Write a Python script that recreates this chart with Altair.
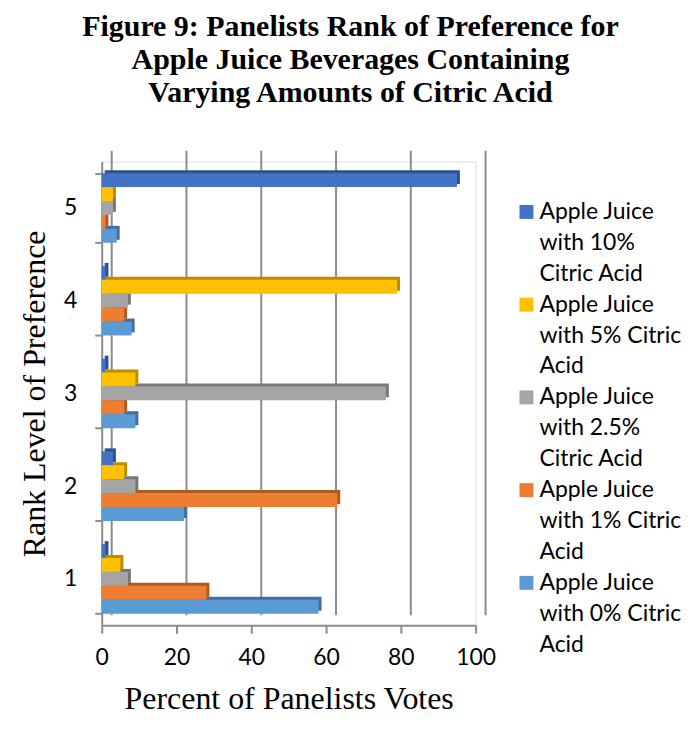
import altair as alt
import pandas as pd

ranks = ["5", "4", "3", "2", "1"]
series = [
    "Apple Juice with 10% Citric Acid",
    "Apple Juice with 5% Citric Acid",
    "Apple Juice with 2.5% Citric Acid",
    "Apple Juice with 1% Citric Acid",
    "Apple Juice with 0% Citric Acid",
]
# values per series, ordered by rank 5,4,3,2,1
v10 = [95, 1, 1, 3, 1]
v5 = [3, 79, 9, 6, 5]
v25 = [3, 7, 76, 9, 7]
v1 = [1, 6, 6, 63, 28]
v0 = [4, 8, 9, 22, 58]
all_vals = [v10, v5, v25, v1, v0]

colors = ["#4472C4", "#FFC000", "#A5A5A5", "#ED7D31", "#5B9BD5"]
dark = ["#2F528F", "#BC8C00", "#787878", "#AE5A21", "#41719C"]

x_ticks = [0, 20, 40, 60, 80, 100]
legend_lines = [
    ["Apple Juice", "with 10%", "Citric Acid"],
    ["Apple Juice", "with 5% Citric", "Acid"],
    ["Apple Juice", "with 2.5%", "Citric Acid"],
    ["Apple Juice", "with 1% Citric", "Acid"],
    ["Apple Juice", "with 0% Citric", "Acid"],
]

rows = []
for s, vals in zip(series, all_vals):
    for r, v in zip(ranks, vals):
        rows.append({"rank": r, "series": s, "shade": s, "value": v})
df = pd.DataFrame(rows)

lrows = []
k = 0
for s, lines in zip(series, legend_lines):
    for i, t in enumerate(lines):
        lrows.append({"line": k, "series": s, "text": t, "first": i == 0})
        k += 1
ldf = pd.DataFrame(lrows)
gdf = pd.DataFrame({"tick": x_ticks})

W, H = 375, 465
BAND = H / 5 * 0.75
DEPTH = 3
SANS = "Lato"
SERIF = "Liberation Serif"

y_enc = alt.Y("rank:N", sort=ranks,
              scale=alt.Scale(paddingInner=0.25, paddingOuter=0.125),
              axis=alt.Axis(title="Rank Level of Preference", titleFont=SERIF,
                            titleFontSize=32, titleFontWeight="normal", titleColor="black",
                            titlePadding=12,
                            labelFont=SANS, labelFontSize=23, labelColor="black",
                            labelPadding=18, tickBand="extent", tickSize=7,
                            tickColor="#8c8c8c", tickWidth=2,
                            domainColor="#8c8c8c", domainWidth=2, grid=False))
x_enc = alt.X("value:Q", scale=alt.Scale(domain=[0, 100], nice=False),
              axis=alt.Axis(values=x_ticks, title="Percent of Panelists Votes",
                            titleFont=SERIF, titleFontSize=32, titleFontWeight="normal",
                            titleColor="black", titlePadding=15,
                            labelFont=SANS, labelFontSize=23, labelColor="black",
                            labelPadding=13, labelFlush=False, tickSize=8,
                            tickColor="#8c8c8c",
                            tickWidth=2, domainColor="#8c8c8c", domainWidth=2,
                            grid=False))

grid = alt.Chart(gdf).mark_rule(color="#8c8c8c", strokeWidth=2, xOffset=10).encode(
    x=alt.X("tick:Q", scale=alt.Scale(domain=[0, 100], nice=False)),
    y=alt.value(-11), y2=alt.value(H - 10))

shadow = alt.Chart(df).mark_bar(xOffset=DEPTH).encode(
    y=y_enc, x=x_enc,
    yOffset=alt.YOffset("series:N", sort=series,
                        scale=alt.Scale(paddingInner=0, paddingOuter=0,
                                        range=[-DEPTH, BAND - DEPTH])),
    color=alt.Color("shade:N", scale=alt.Scale(domain=series, range=dark), legend=None))

bars = alt.Chart(df).mark_bar().encode(
    y=y_enc, x=x_enc,
    yOffset=alt.YOffset("series:N", sort=series,
                        scale=alt.Scale(paddingInner=0, paddingOuter=0,
                                        range=[0, BAND])),
    color=alt.Color("series:N", scale=alt.Scale(domain=series, range=colors), legend=None))

plot = alt.layer(grid, shadow, bars).resolve_scale(color="independent", yOffset="independent")

ly = alt.Y("line:O", axis=None, scale=alt.Scale(paddingInner=0, paddingOuter=0))
ltext = alt.Chart(ldf).mark_text(align="left", baseline="middle", font=SANS,
                                 fontSize=23, dy=35, color="black").encode(
    y=ly, x=alt.value(439), text="text:N")
lsym = alt.Chart(ldf).transform_filter("datum.first").mark_square(
    size=196, opacity=1, yOffset=35).encode(
    y=ly, x=alt.value(426),
    color=alt.Color("series:N", scale=alt.Scale(domain=series, range=colors), legend=None))
legend = alt.layer(lsym, ltext)

chart = alt.layer(plot, legend).resolve_scale(
    y="independent", color="independent").properties(
    width=W, height=H,
    padding={"left": 10, "top": 3, "right": 0, "bottom": 0},
    title=alt.TitleParams(
        ["Figure 9: Panelists Rank of Preference for",
         "Apple Juice Beverages Containing",
         "Varying Amounts of Citric Acid"],
        font=SERIF, fontSize=30, fontWeight="bold", color="black",
        lineHeight=33, anchor="middle", dx=62, offset=42),
).configure_view(stroke=None).configure(background="white")

chart.save("out.html", embed_options={"renderer": "svg", "actions": False})
